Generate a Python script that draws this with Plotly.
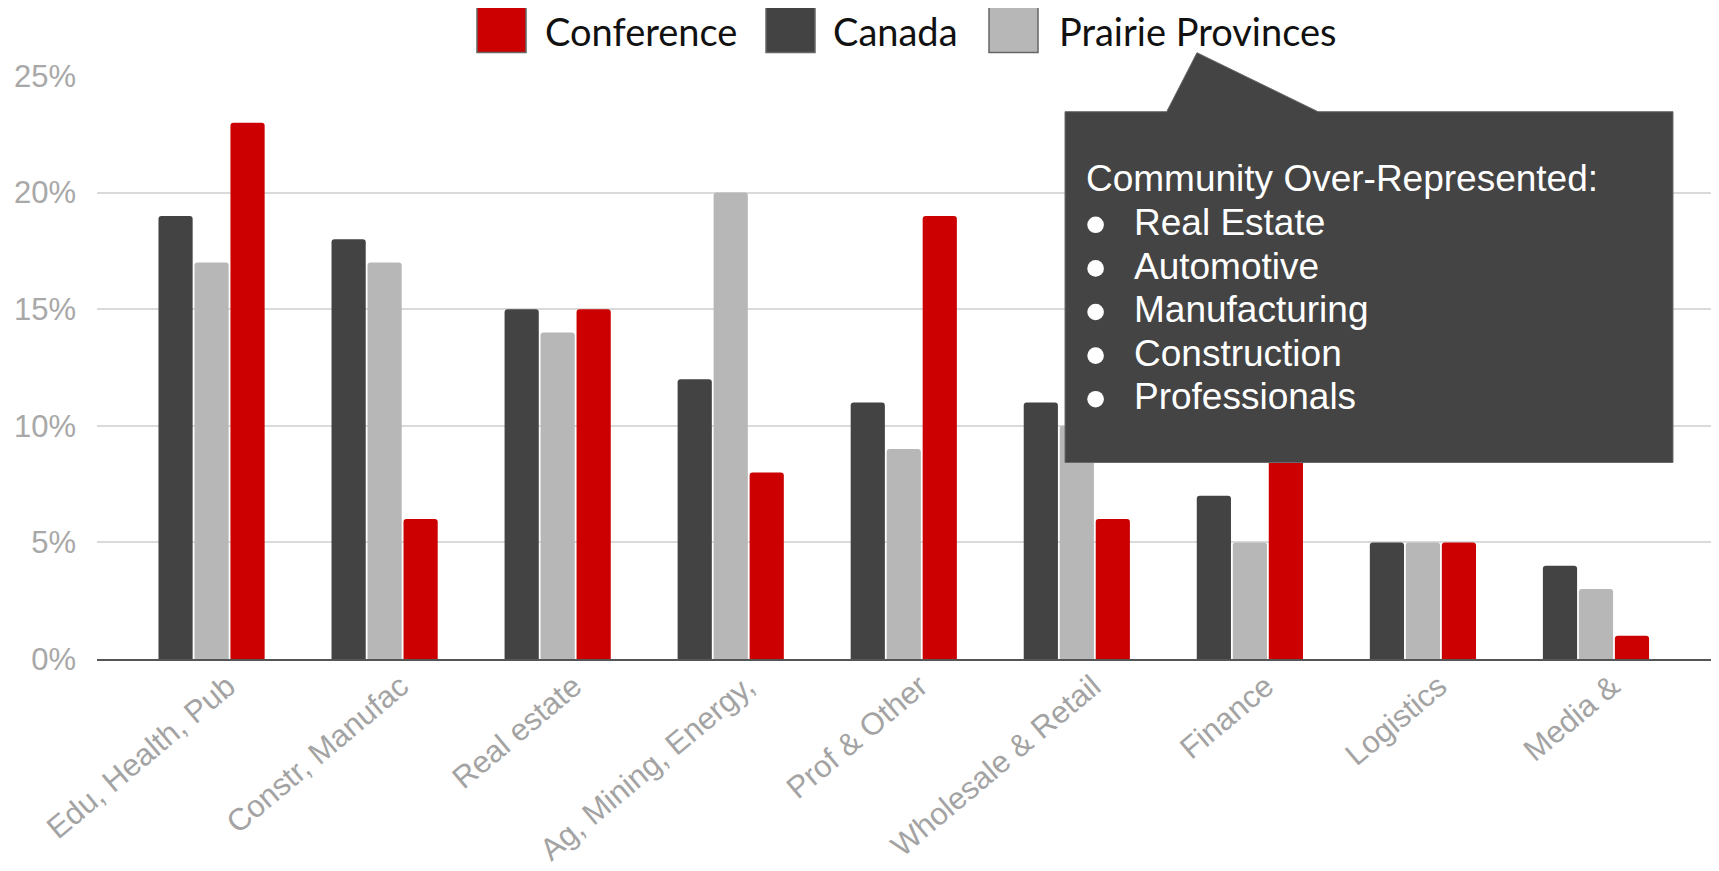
import plotly.graph_objects as go

# ---------------- data ----------------
categories = ["Edu, Health, Pub", "Constr, Manufac", "Real estate", "Ag, Mining, Energy,",
              "Prof & Other", "Wholesale & Retail", "Finance", "Logistics", "Media &"]
canada = [19, 18, 15, 12, 11, 11, 7, 5, 4]
prairie = [17, 17, 14, 20, 9, 10, 5, 5, 3]
conference = [23, 6, 15, 8, 19, 6, 10, 5, 1]
y_ticks = [0, 5, 10, 15, 20, 25]
y_tick_labels = [f"{v}%" for v in y_ticks]

series_names = ["Conference", "Canada", "Prairie Provinces"]
colors = {"Conference": "#cc0000", "Canada": "#434343", "Prairie Provinces": "#b7b7b7"}

callout_title = "Community Over-Represented:"
callout_items = ["Real Estate", "Automotive", "Manufacturing", "Construction", "Professionals"]

# ---------------- layout geometry (pixels) ----------------
OFF = 8  # page body margin
FIG_W, FIG_H = 1719 - OFF, 871 - OFF
M_L, M_R, M_T, M_B = 97 - OFF, 5, 76 - OFF, 212
PW = FIG_W - M_L - M_R
PH = FIG_H - M_T - M_B


def px(x):
    # x given in screenshot pixels
    return (x - OFF - M_L) / PW


def py(y):
    return (FIG_H - M_B - (y - OFF)) / PH


fig = go.Figure()
for name, vals in [("Canada", canada), ("Prairie Provinces", prairie), ("Conference", conference)]:
    fig.add_trace(go.Bar(
        x=categories, y=vals, name=name,
        marker=dict(color=colors[name], cornerradius=3, line=dict(width=0)),
        showlegend=False,
    ))

shapes = []
annotations = []

# ---- custom legend ----
legend_items = [("Conference", 477, 543), ("Canada", 766, 831), ("Prairie Provinces", 989, 1057)]
for name, sx, tx in legend_items:
    shapes.append(dict(type="rect", xref="paper", yref="paper",
                       x0=px(sx), x1=px(sx + 49), y0=py(52.5), y1=py(6.5),
                       fillcolor=colors[name], line=dict(color="#666666", width=1.5), layer="above"))
    annotations.append(dict(text=name, xref="paper", yref="paper", x=px(tx), y=py(31),
                            xanchor="left", yanchor="middle", showarrow=False,
                            font=dict(family="Lato", size=38, color="#111111")))

# ---- callout box ----
L, R, T, Bt = 1065, 1673, 111.7, 462.5
path_pts = [(L, T), (1166.7, T), (1197, 52.7), (1318, T), (R, T), (R, Bt), (L, Bt)]
path = "M " + " L ".join(f"{px(a):.5f},{py(b):.5f}" for a, b in path_pts) + " Z"
shapes.append(dict(type="path", xref="paper", yref="paper", path=path,
                   fillcolor="#444444", line=dict(color="#6a6a6a", width=1), layer="above"))

base0 = 191.7
step = 43.6
annotations.append(dict(text=callout_title, xref="paper", yref="paper", x=px(1084), y=py(base0 - 12.8),
                        xanchor="left", yanchor="middle", showarrow=False,
                        font=dict(family="Liberation Sans, Arial", size=37, color="#ffffff")))
for i, item in enumerate(callout_items):
    b = base0 + (i + 1) * step
    annotations.append(dict(text=item, xref="paper", yref="paper", x=px(1132.3), y=py(b - 12.8),
                            xanchor="left", yanchor="middle", showarrow=False,
                            font=dict(family="Liberation Sans, Arial", size=37, color="#ffffff")))
    cy = b - 10.5
    r = 8.3
    shapes.append(dict(type="circle", xref="paper", yref="paper",
                       x0=px(1095.6 - r), x1=px(1095.6 + r), y0=py(cy + r), y1=py(cy - r),
                       fillcolor="#ffffff", line=dict(width=0), layer="above"))

fig.update_layout(
    width=FIG_W, height=FIG_H,
    margin=dict(l=M_L, r=M_R, t=M_T, b=M_B, autoexpand=False),
    paper_bgcolor="#ffffff", plot_bgcolor="#ffffff",
    barmode="group", bargap=0.376, bargroupgap=0.05,
    showlegend=False,
    shapes=shapes, annotations=annotations,
    xaxis=dict(
        range=[-0.662, 8.682], tickangle=-40, showgrid=False,
        showline=True, linecolor="#555555", linewidth=2, ticks="",
        tickfont=dict(family="Liberation Sans, Arial", size=31, color="#a3a3a3"),
        ticklabelstandoff=-5, ticklabelshift=16, automargin=False,
    ),
    yaxis=dict(
        range=[0, 25], tickmode="array", tickvals=y_ticks, ticktext=y_tick_labels,
        showgrid=True, gridcolor="#dadada", gridwidth=1.5, zeroline=False,
        showline=False, ticks="",
        tickfont=dict(family="Liberation Sans, Arial", size=31, color="#a8a8a8"),
        ticklabelstandoff=20, automargin=False,
    ),
)

fig.write_html("out.html")
